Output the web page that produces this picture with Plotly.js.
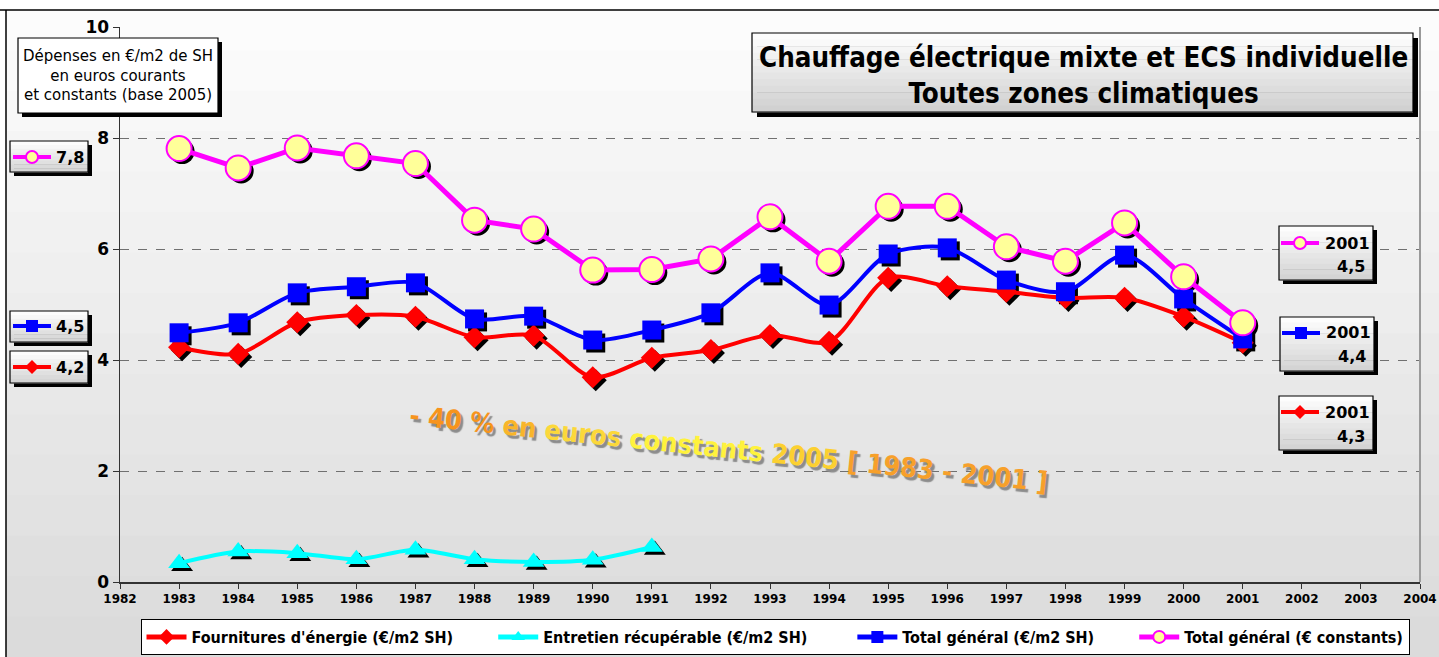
<!DOCTYPE html>
<html>
<head>
<meta charset="utf-8">
<script src="https://cdn.plot.ly/plotly-3.0.1.min.js"></script>
<style>
  html, body { margin: 0; padding: 0; background: #ffffff; }
  #chart { width: 1439px; height: 657px; }
</style>
</head>
<body>
<div id="chart"></div>
<script>
// ---------------- DATA ----------------
const years = [1983, 1984, 1985, 1986, 1987, 1988, 1989, 1990, 1991, 1992,
               1993, 1994, 1995, 1996, 1997, 1998, 1999, 2000, 2001];
const fournitures = [4.23, 4.11, 4.68, 4.81, 4.78, 4.41, 4.44, 3.69, 4.04, 4.18,
                     4.45, 4.33, 5.48, 5.33, 5.23, 5.12, 5.12, 4.78, 4.31];
const entretienYears = [1983, 1984, 1985, 1986, 1987, 1988, 1989, 1990, 1991];
const entretien = [0.34, 0.55, 0.52, 0.41, 0.58, 0.41, 0.36, 0.40, 0.63];
const totalCourant = [4.49, 4.67, 5.21, 5.32, 5.39, 4.74, 4.79, 4.36, 4.54, 4.85,
                      5.57, 4.99, 5.91, 6.02, 5.44, 5.23, 5.89, 5.10, 4.38];
const totalConstant = [7.81, 7.46, 7.82, 7.68, 7.54, 6.52, 6.36, 5.62, 5.63, 5.82,
                       6.58, 5.78, 6.77, 6.77, 6.04, 5.78, 6.47, 5.50, 4.67];

const seriesNames = ["Fournitures d'énergie (€/m2 SH)", "Entretien récupérable (€/m2 SH)",
                     "Total général (€/m2 SH)", "Total général (€ constants)"];
const titleText = "Chauffage électrique mixte et ECS individuelle<br>Toutes zones climatiques";
const yLabelText = "Dépenses en €/m2 de SH<br>en euros courants<br>et constants (base 2005)";
const leftLabels = ["7,8", "4,5", "4,2"];
const rightYear = "2001";
const rightLabels = ["4,5", "4,4", "4,3"];
const bigWords = ["- 40 %", "en", "euros", "constants", "2005", "[ 1983 - 2001 ]"];

// ---------------- GEOMETRY HELPERS (layout only) ----------------
const L = 120, T = 27, W = 1300, H = 555;
const xr = [1982, 2004], yr = [0, 10];
const px = p => (p - L) / W;
const py = p => (T + H - p) / H;
const dxShadow = 3 * (xr[1] - xr[0]) / W;
const dyShadow = 3 * (yr[1] - yr[0]) / H;

const BOLD = 'DejaVu Sans, sans-serif';
const COND = 'DejaVu Sans Condensed, DejaVu Sans, sans-serif';

const MAG = '#ff00ff', BLUE = '#0000ff', RED = '#ff0000', CYAN = '#00ffff', YEL = '#ffff99';

// ---------------- TRACES ----------------
const markerDefs = [
  {x: years, y: fournitures, color: RED, symbol: 'diamond', size: 17, shape: 'spline', lw: 4, pad: 7},
  {x: entretienYears, y: entretien, color: CYAN, symbol: 'triangle-up', size: 19, shape: 'spline', lw: 4, pad: 8},
  {x: years, y: totalCourant, color: BLUE, symbol: 'square', size: 19, shape: 'spline', lw: 4, pad: 7},
  {x: years, y: totalConstant, color: MAG, symbol: 'circle', size: 25, shape: 'linear', lw: 5, pad: 0}
];

const traces = [];
// empty trace to anchor the visible base axes
traces.push({x: [], y: [], type: 'scatter', mode: 'markers', xaxis: 'x', yaxis: 'y',
             showlegend: false, hoverinfo: 'skip'});
// shadows (on a shifted overlay axis pair)
markerDefs.forEach(d => {
  traces.push({
    x: d.x, y: d.y, type: 'scatter', mode: 'markers', xaxis: 'x2', yaxis: 'y2',
    showlegend: false, hoverinfo: 'skip',
    marker: {symbol: d.symbol, size: d.size, color: '#000000', line: {width: 0}}
  });
});
// main series
markerDefs.forEach((d, i) => {
  const isMag = d.color === MAG;
  traces.push({
    x: d.x, y: d.y, type: 'scatter', mode: 'lines+markers', xaxis: 'x3', yaxis: 'y3',
    name: seriesNames[i] + '\u00a0'.repeat(d.pad),
    line: {color: d.color, width: d.lw, shape: d.shape, smoothing: 0.8},
    marker: {symbol: d.symbol, size: d.size,
             color: isMag ? YEL : d.color,
             line: {color: d.color, width: isMag ? 2 : 0}}
  });
});

// ---------------- SHAPES ----------------
const shapes = [];
function rectPx(x0, y0, x1, y1, fill, line, layer) {
  shapes.push({type: 'rect', xref: 'paper', yref: 'paper',
    x0: px(x0), x1: px(x1), y0: py(y1), y1: py(y0),
    fillcolor: fill, line: line || {width: 0}, layer: layer || 'above'});
}
function lerpColor(a, b, t) {
  const pa = [parseInt(a.substr(1,2),16), parseInt(a.substr(3,2),16), parseInt(a.substr(5,2),16)];
  const pb = [parseInt(b.substr(1,2),16), parseInt(b.substr(3,2),16), parseInt(b.substr(5,2),16)];
  const c = pa.map((v, k) => Math.round(v + (pb[k] - v) * t));
  return 'rgb(' + c.join(',') + ')';
}
function gradBox(x0, y0, x1, y1, c0, c1, shadow, bands) {
  if (shadow) rectPx(x0 + shadow, y0 + shadow, x1 + shadow, y1 + shadow, '#000000');
  const n = bands || 8;
  for (let k = 0; k < n; k++) {
    const ya = y0 + (y1 - y0) * k / n, yb = y0 + (y1 - y0) * (k + 1) / n;
    rectPx(x0, ya, x1, yb + 0.5, lerpColor(c0, c1, (k + 0.5) / n));
  }
  rectPx(x0, y0, x1, y1, 'rgba(0,0,0,0)', {color: '#000000', width: 1.2});
}
function glyph(cx, cy, color, kind) {
  shapes.push({type: 'line', xref: 'paper', yref: 'paper',
    x0: px(cx - 19), x1: px(cx + 19), y0: py(cy), y1: py(cy),
    line: {color: color, width: 4}, layer: 'above'});
  if (kind === 'circle') {
    shapes.push({type: 'circle', xref: 'paper', yref: 'paper',
      x0: px(cx - 6), x1: px(cx + 6), y0: py(cy + 6), y1: py(cy - 6),
      fillcolor: YEL, line: {color: color, width: 2}, layer: 'above'});
  } else if (kind === 'square') {
    rectPx(cx - 6, cy - 6, cx + 6, cy + 6, color);
  } else {
    const p = 'M' + px(cx - 7) + ',' + py(cy) + ' L' + px(cx) + ',' + py(cy - 7) +
              ' L' + px(cx + 7) + ',' + py(cy) + ' L' + px(cx) + ',' + py(cy + 7) + ' Z';
    shapes.push({type: 'path', xref: 'paper', yref: 'paper', path: p,
      fillcolor: color, line: {width: 0}, layer: 'above'});
  }
}

// page background gradient (below plot area)
for (let k = 0; k < 16; k++) {
  const y0 = 10 + (657 - 10) * k / 16, y1 = 10 + (657 - 10) * (k + 1) / 16 + 1;
  rectPx(6, y0, 1439, y1, lerpColor('#fdfdfd', '#dadada', (k + 0.5) / 16), null, 'below');
}
rectPx(0, 0, 1439, 10, '#ffffff', null, 'below');
rectPx(0, 0, 6, 657, '#ffffff', null, 'below');
shapes.push({type: 'line', xref: 'paper', yref: 'paper', x0: px(0), x1: px(1439), y0: py(10), y1: py(10),
  line: {color: '#000000', width: 1.5}, layer: 'below'});
shapes.push({type: 'line', xref: 'paper', yref: 'paper', x0: px(6), x1: px(6), y0: py(10), y1: py(657),
  line: {color: '#000000', width: 1.5}, layer: 'below'});
// right border of plot area
shapes.push({type: 'line', xref: 'paper', yref: 'paper', x0: 1, x1: 1, y0: 0, y1: 1,
  line: {color: '#9a9a9a', width: 2}, layer: 'above'});

// title box
gradBox(752, 33, 1413, 112, '#ffffff', '#cfcfcf', 5, 12);
// y label box
rectPx(22, 42, 222, 117, '#000000');
rectPx(18, 38, 218, 113, '#ffffff', {color: '#000000', width: 1.2});
// left value boxes
gradBox(10, 141, 88, 172, '#ffffff', '#d2d2d2', 4, 8);
gradBox(10, 311, 88, 342, '#ffffff', '#d2d2d2', 4, 8);
gradBox(10, 351, 88, 383, '#ffffff', '#d2d2d2', 4, 8);
glyph(32, 157, MAG, 'circle');
glyph(32, 326, BLUE, 'square');
glyph(32, 367, RED, 'diamond');
// right value boxes
gradBox(1279, 226, 1373, 280, '#ffffff', '#d2d2d2', 4, 10);
gradBox(1280, 317, 1374, 371, '#ffffff', '#d2d2d2', 4, 10);
gradBox(1279, 396, 1373, 450, '#ffffff', '#d2d2d2', 4, 10);
glyph(1300, 243, MAG, 'circle');
glyph(1301, 333, BLUE, 'square');
glyph(1300, 412, RED, 'diamond');

// ---------------- ANNOTATIONS ----------------
const annotations = [];
function textPx(x, y, text, size, family, weight, extra) {
  annotations.push(Object.assign({xref: 'paper', yref: 'paper', x: px(x), y: py(y),
    xanchor: 'center', yanchor: 'middle', showarrow: false, text: text,
    font: {family: family, size: size, color: '#000000', weight: weight}}, extra || {}));
}
textPx(1083, 75, titleText, 27.5, COND, 'bold');
textPx(118, 75, yLabelText, 15, 'DejaVu Sans, sans-serif', 'normal');
textPx(70, 157, leftLabels[0], 16, BOLD, 'bold');
textPx(70, 326, leftLabels[1], 16, BOLD, 'bold');
textPx(70, 367, leftLabels[2], 16, BOLD, 'bold');
textPx(1347, 243, rightYear, 16, BOLD, 'bold');
textPx(1351, 266, rightLabels[0], 16, BOLD, 'bold');
textPx(1348, 333, rightYear, 16, BOLD, 'bold');
textPx(1352, 357, rightLabels[1], 16, BOLD, 'bold');
textPx(1347, 412, rightYear, 16, BOLD, 'bold');
textPx(1351, 436, rightLabels[2], 16, BOLD, 'bold');

const bigColors = ['#f7941d', '#f9b52a', '#fcd83a', '#fff23c', '#fcd030', '#f7a02a'];
const bigText = bigWords.map((w, i) => '<span style="color:' + bigColors[i] + '">' + w + '</span>').join(' ');
textPx(728, 448, bigText, 27, 'Liberation Sans Narrow, DejaVu Sans Condensed, sans-serif', 'bold',
  {textangle: 6});
annotations[annotations.length - 1].font.shadow = '3px 3px 1px #8c8c8c';

// ---------------- LAYOUT ----------------
const layout = {
  width: 1439, height: 657,
  margin: {l: L, r: 1439 - L - W, t: T, b: 657 - T - H, pad: 0, autoexpand: false},
  paper_bgcolor: '#e4e4e4',
  plot_bgcolor: '#ffffff',
  showlegend: true,
  xaxis: {range: xr, tick0: 1982, dtick: 1, ticks: 'outside', ticklen: 5, tickcolor: '#333333',
          showline: true, linecolor: '#333333', linewidth: 1.5, showgrid: false, zeroline: false,
          tickfont: {family: BOLD, size: 12, color: '#000000', weight: 'bold'}, fixedrange: true},
  yaxis: {range: yr, tick0: 0, dtick: 2, ticks: 'outside', ticklen: 6, tickcolor: '#333333',
          showline: true, linecolor: '#333333', linewidth: 1.5, zeroline: false,
          showgrid: true, gridcolor: '#707070', griddash: 'dash', gridwidth: 1,
          tickfont: {family: BOLD, size: 17, color: '#000000', weight: 'bold'}, fixedrange: true},
  xaxis2: {overlaying: 'x', range: [xr[0] - dxShadow, xr[1] - dxShadow], visible: false, fixedrange: true},
  yaxis2: {overlaying: 'y', range: [yr[0] + dyShadow, yr[1] + dyShadow], visible: false, fixedrange: true},
  xaxis3: {overlaying: 'x', range: xr, visible: false, fixedrange: true},
  yaxis3: {overlaying: 'y', range: yr, visible: false, fixedrange: true},
  legend: {orientation: 'h', x: px(775), xanchor: 'center', y: py(619), yanchor: 'top',
           bgcolor: '#ffffff', bordercolor: '#000000', borderwidth: 1,
           itemwidth: 40, itemsizing: 'constant',
           font: {family: COND, size: 16, color: '#000000', weight: 'bold'}},
  shapes: shapes,
  annotations: annotations
};

Plotly.newPlot('chart', traces, layout, {displayModeBar: false, staticPlot: true});
</script>
</body>
</html>
